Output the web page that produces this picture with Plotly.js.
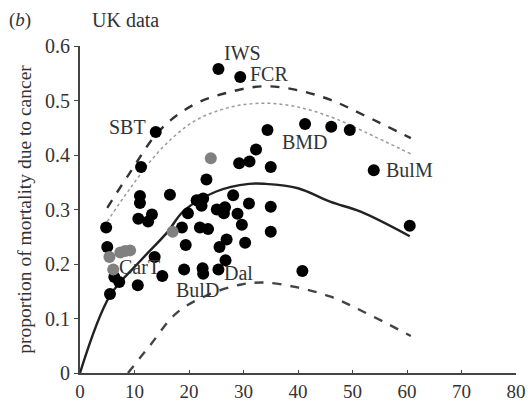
<!DOCTYPE html>
<html>
<head>
<meta charset="utf-8">
<script src="https://cdn.plot.ly/plotly-3.0.1.min.js"></script>
<style>html,body{margin:0;padding:0;background:#fff;}#chart{width:528px;height:403px;}</style>
</head>
<body>
<div id="chart"></div>
<script>
// Black points (population size index vs proportion of mortality due to cancer)
var blackX = [25.4, 29.4, 13.9, 11.2, 41.3, 46.1, 49.5, 34.4, 32.3, 29.2, 31.1, 35.0, 53.9, 60.5, 40.8,
              23.2, 16.5, 28.1, 21.4, 22.6, 22.3, 31.0, 35.0, 25.1, 26.6, 26.4, 28.9, 19.8, 29.7, 22.0,
              23.5, 18.7, 35.0, 26.9, 25.6, 30.3, 19.4, 19.1, 22.5, 22.6, 25.4, 26.7, 11.0, 11.0, 10.7,
              13.2, 12.5, 4.8, 5.0, 13.7, 15.1, 6.3, 7.2, 10.6, 5.5];
var blackY = [0.558, 0.543, 0.442, 0.378, 0.457, 0.452, 0.446, 0.446, 0.410, 0.385, 0.388, 0.378, 0.372, 0.270, 0.187,
              0.355, 0.327, 0.326, 0.317, 0.320, 0.307, 0.311, 0.305, 0.300, 0.304, 0.293, 0.292, 0.293, 0.272, 0.267,
              0.264, 0.267, 0.259, 0.245, 0.231, 0.239, 0.235, 0.190, 0.192, 0.182, 0.190, 0.207, 0.325, 0.312, 0.283,
              0.291, 0.278, 0.267, 0.231, 0.213, 0.178, 0.176, 0.167, 0.161, 0.145];
// Grey points
var greyX = [24.0, 17.0, 5.4, 6.1, 7.4, 8.3, 9.2];
var greyY = [0.394, 0.259, 0.213, 0.190, 0.221, 0.224, 0.225];

// Fitted curve (solid)
var fitX = [0, 5.5, 11, 16, 19, 25, 31, 34, 40, 46, 51.5, 60.5];
var fitY = [0, 0.142, 0.205, 0.258, 0.297, 0.333, 0.347, 0.347, 0.339, 0.314, 0.296, 0.251];
// Upper dashed band
var upX = [5, 9, 14.7, 20.8, 26.9, 33.5, 39.9, 46, 52.1, 60.7];
var upY = [0.303, 0.365, 0.446, 0.492, 0.514, 0.526, 0.519, 0.501, 0.473, 0.431];
// Grey dotted curve
var dotX = [5, 9, 14.7, 20.8, 26.9, 33, 39.5, 46, 52.1, 60.7];
var dotY = [0.278, 0.336, 0.409, 0.461, 0.486, 0.495, 0.489, 0.470, 0.443, 0.402];
// Lower dashed band
var lowX = [8.8, 12.8, 17.7, 23.2, 29.4, 33.8, 39.9, 46, 52.1, 60.7];
var lowY = [0, 0.05, 0.11, 0.142, 0.162, 0.166, 0.157, 0.14, 0.112, 0.068];

// Point labels
var labText = ['IWS', 'FCR', 'SBT', 'BMD', 'BulM', 'CarT', 'BulD', 'Dal'];
var labX = [29.9, 34.7, 8.8, 41.3, 60.4, 11.0, 21.5, 29.1];
var labY = [0.587, 0.549, 0.451, 0.424, 0.372, 0.194, 0.152, 0.184];

var serif = 'Liberation Serif, Times New Roman, serif';

var traces = [
  {x: dotX, y: dotY, mode: 'lines', line: {color: '#9a9a9a', width: 1.5, dash: 'dot', shape: 'spline'}, hoverinfo: 'skip'},
  {x: upX, y: upY, mode: 'lines', line: {color: '#333', width: 2.4, dash: 'dash', shape: 'spline'}, hoverinfo: 'skip'},
  {x: lowX, y: lowY, mode: 'lines', line: {color: '#444', width: 2.4, dash: 'dash', shape: 'spline'}, hoverinfo: 'skip'},
  {x: fitX, y: fitY, mode: 'lines', line: {color: '#222', width: 2.4, shape: 'spline'}, hoverinfo: 'skip'},
  {x: blackX, y: blackY, mode: 'markers', marker: {color: '#000', size: 12}},
  {x: greyX, y: greyY, mode: 'markers', marker: {color: '#808080', size: 12}}
];

var annotations = labText.map(function (t, i) {
  return {x: labX[i], y: labY[i], xref: 'x', yref: 'y', text: t, showarrow: false,
          font: {family: serif, size: 20, color: '#333'}, xanchor: 'center', yanchor: 'middle'};
});
annotations.push({xref: 'paper', yref: 'paper', x: -0.168, y: 1.08, text: '(<i>b</i>)', showarrow: false,
  xanchor: 'left', yanchor: 'middle', font: {family: serif, size: 19, color: '#333'}});
annotations.push({xref: 'paper', yref: 'paper', x: 0.022, y: 1.08, text: 'UK data', showarrow: false,
  xanchor: 'left', yanchor: 'middle', font: {family: serif, size: 20, color: '#333'}});

var layout = {
  width: 528, height: 403,
  margin: {l: 80, r: 12, t: 46, b: 30, pad: 0},
  showlegend: false,
  paper_bgcolor: '#fff', plot_bgcolor: '#fff',
  font: {family: serif, color: '#333'},
  xaxis: {range: [0, 80], tickvals: [0, 10, 20, 30, 40, 50, 60, 70, 80], showgrid: false, zeroline: false,
          showline: true, linecolor: '#444', linewidth: 2, ticks: 'inside', ticklen: 3, tickcolor: '#444',
          tickfont: {family: serif, size: 19, color: '#333'}, automargin: false},
  yaxis: {range: [0, 0.6], tickvals: [0, 0.1, 0.2, 0.3, 0.4, 0.5, 0.6], ticktext: ['0', '0.1', '0.2', '0.3', '0.4', '0.5', '0.6'],
          showgrid: false, zeroline: false,
          showline: true, linecolor: '#444', linewidth: 2, ticks: 'outside', ticklen: 4, tickcolor: '#444',
          tickfont: {family: serif, size: 20, color: '#333'}, automargin: false,
          title: {text: 'proportion of mortality due to cancer', font: {family: serif, size: 19.5, color: '#333'}, standoff: 8}},
  annotations: annotations
};

Plotly.newPlot('chart', traces, layout, {displayModeBar: false, staticPlot: true});
</script>
</body>
</html>
